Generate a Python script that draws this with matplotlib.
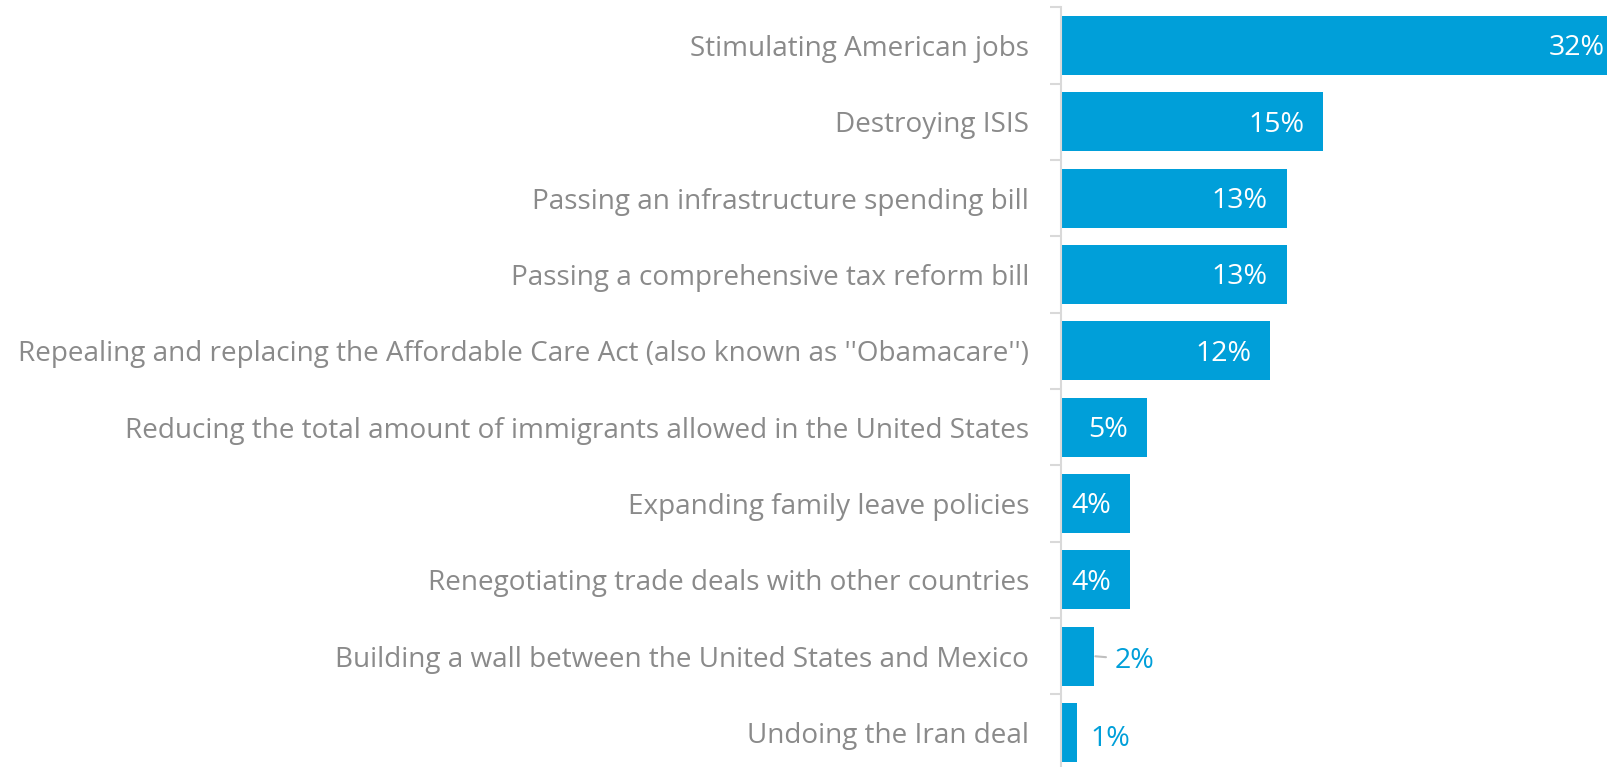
import matplotlib.pyplot as plt
import numpy as np

categories = [
    "Stimulating American jobs",
    "Destroying ISIS",
    "Passing an infrastructure spending bill",
    "Passing a comprehensive tax reform bill",
    "Repealing and replacing the Affordable Care Act (also known as ''Obamacare'')",
    "Reducing the total amount of immigrants allowed in the United States",
    "Expanding family leave policies",
    "Renegotiating trade deals with other countries",
    "Building a wall between the United States and Mexico",
    "Undoing the Iran deal",
]
values = [32.4, 15.1, 13.0, 13.0, 12.05, 4.94, 3.98, 3.98, 1.9, 0.92]
labels = ["32%", "15%", "13%", "13%", "12%", "5%", "4%", "4%", "2%", "1%"]

BLUE = "#009fd9"
GRAY = "#8a8a8a"
LIGHT = "#d9d9d9"

plt.rcParams['font.family'] = ['Open Sans', 'DejaVu Sans']

fig = plt.figure(figsize=(16.08, 7.67), dpi=100)
ax = fig.add_axes([0.6598, -0.0048, 0.3402, 0.9953])

y = np.arange(len(categories))
ax.barh(y, values, height=0.77, color=BLUE, zorder=2)
ax.set_xlim(0, 31.47)
ax.set_ylim(len(categories) - 0.5, -0.5)

# category labels
ax.set_yticks(y)
ax.set_yticklabels(categories, fontsize=20.1, color=GRAY)
ax.tick_params(axis='y', which='major', length=0, pad=23)
ax.set_yticks(np.arange(len(categories) + 1) - 0.5, minor=True)
ax.tick_params(axis='y', which='minor', length=8, width=1.5, color=LIGHT)
ax.set_xticks([])

for s in ['top', 'right', 'bottom']:
    ax.spines[s].set_visible(False)
ax.spines['left'].set_color(LIGHT)
ax.spines['left'].set_linewidth(1.5)

# value labels
for i, (v, lab) in enumerate(zip(values, labels)):
    if v > 3:
        ax.annotate(lab, (v, i), xytext=(-19, -3), textcoords='offset pixels',
                    ha='right', va='center', color='white', fontsize=20.5,
                    annotation_clip=False)
    elif v > 1.5:
        ax.annotate("", (v, i), xytext=(12, -1), textcoords='offset pixels',
                    arrowprops=dict(arrowstyle='-', color='#bfbfbf', lw=1.5,
                                    shrinkA=0, shrinkB=1))
        ax.annotate(lab, (v, i), xytext=(21, -5), textcoords='offset pixels',
                    ha='left', va='center', color=BLUE, fontsize=20.5)
    else:
        ax.annotate(lab, (v, i), xytext=(14, -6), textcoords='offset pixels',
                    ha='left', va='center', color=BLUE, fontsize=20.5)

fig.savefig("out.png", dpi=100)
